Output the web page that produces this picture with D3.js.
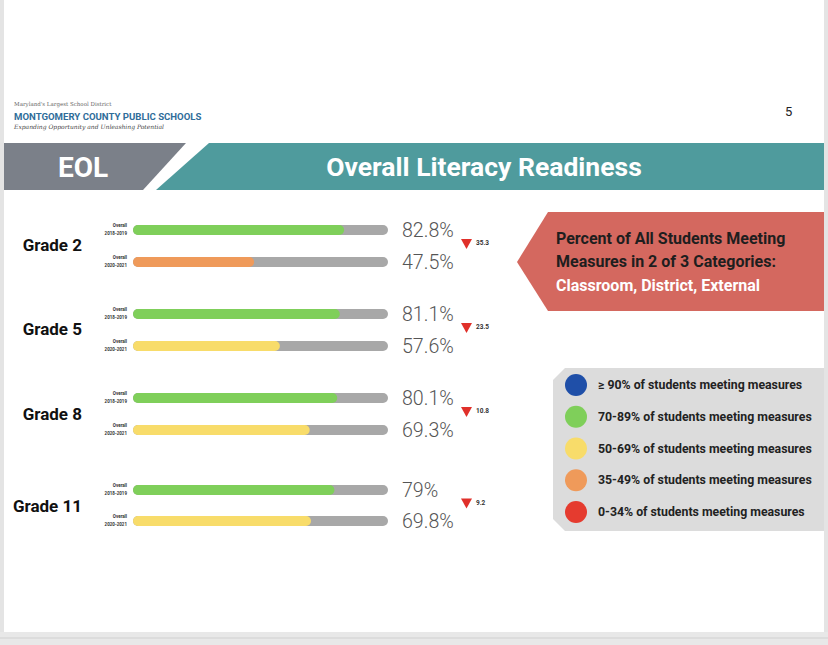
<!DOCTYPE html>
<html><head><meta charset="utf-8">
<script src="https://cdn.jsdelivr.net/npm/d3@7"></script>
<style>body{margin:0;background:#fff}</style></head>
<body><svg id="c" width="828" height="645"></svg>
<script>
const grades = ["Grade 2","Grade 5","Grade 8","Grade 11"];
const years = ["2018-2019","2020-2021"];
const values2019 = [82.8, 81.1, 80.1, 79];
const values2021 = [47.5, 57.6, 69.3, 69.8];
const valueLabels2019 = ["82.8%","81.1%","80.1%","79%"];
const valueLabels2021 = ["47.5%","57.6%","69.3%","69.8%"];
const drops = ["35.3","23.5","10.8","9.2"];
const legendLabels = ["≥ 90% of students meeting measures","70-89% of students meeting measures","50-69% of students meeting measures","35-49% of students meeting measures","0-34% of students meeting measures"];
const legendColors = ["#1f4fa8","#7fcf5a","#f8dc6a","#ef9a5a","#e53b2f"];

function colorFor(v){ return v>=90?legendColors[0]:v>=70?legendColors[1]:v>=50?legendColors[2]:v>=35?legendColors[3]:legendColors[4]; }

const svg = d3.select("#c");
const F = "Roboto, 'Open Sans', sans-serif";
svg.append("rect").attr("x",0).attr("y",0).attr("width",4).attr("height",645).attr("fill","#e4e4e4");
svg.append("rect").attr("x",824).attr("y",0).attr("width",4).attr("height",645).attr("fill","#e4e4e4");
svg.append("rect").attr("x",0).attr("y",632).attr("width",828).attr("height",13).attr("fill","#e8e8e8");
svg.append("line").attr("x1",0).attr("x2",828).attr("y1",638).attr("y2",638).attr("stroke","#d0d0d0");

// logo
svg.append("text").attr("x",14).attr("y",106).attr("font-family","'DejaVu Serif',serif").attr("font-size",5.5).attr("fill","#666").text("Maryland's Largest School District");
svg.append("text").attr("x",14).attr("y",120).attr("font-family",F).attr("font-weight","bold").attr("font-size",9.6).attr("fill","#2f6d9a").text("MONTGOMERY COUNTY PUBLIC SCHOOLS");
svg.append("text").attr("x",14).attr("y",129).attr("font-family","'DejaVu Serif',serif").attr("font-style","italic").attr("font-size",6).attr("fill","#444").text("Expanding Opportunity and Unleashing Potential");
svg.append("text").attr("x",785).attr("y",116).attr("font-family",F).attr("font-size",13).attr("fill","#222").text("5");

// banner
svg.append("path").attr("d","M4,143 L186,143 L143,190 L4,190 Z").attr("fill","#7b8089");
svg.append("path").attr("d","M209,143 L824,143 L824,190 L156,190 Z").attr("fill","#4f9b9d");
svg.append("text").attr("x",83).attr("y",177).attr("text-anchor","middle").attr("font-family",F).attr("font-weight","bold").attr("font-size",28).attr("fill","#fff").text("EOL");
svg.append("text").attr("x",484).attr("y",176).attr("text-anchor","middle").attr("font-family",F).attr("font-weight","bold").attr("font-size",26.5).attr("fill","#fff").text("Overall Literacy Readiness");

// bars
const x = d3.scaleLinear().domain([0,100]).range([133,388]);
const rowY = [[230,262],[314,346],[398,430],[490,521]];
const gradeY = d3.scaleOrdinal().domain(grades).range([245,329,414,506]);
const bh = 10;
grades.forEach((g,i)=>{
  const G = svg.append("g");
  G.append("text").attr("x",82).attr("y",gradeY(g)+6).attr("text-anchor","end").attr("font-family",F).attr("font-weight","bold").attr("font-size",17).attr("fill","#111").text(g);
  [values2019[i],values2021[i]].forEach((v,j)=>{
    const y = rowY[i][j];
    G.append("text").attr("x",127).attr("y",y-3).attr("text-anchor","end").attr("font-family",F).attr("font-weight","bold").attr("font-size",4.5).attr("fill","#333").text("Overall");
    G.append("text").attr("x",127).attr("y",y+5).attr("text-anchor","end").attr("font-family",F).attr("font-weight","bold").attr("font-size",4.5).attr("fill","#333").text(years[j]);
    G.append("rect").attr("x",x(0)).attr("y",y-bh/2).attr("width",x(100)-x(0)).attr("height",bh).attr("rx",5).attr("fill","#a8a8a8");
    G.append("rect").attr("x",x(0)).attr("y",y-bh/2).attr("width",x(v)-x(0)).attr("height",bh).attr("rx",5).attr("fill",colorFor(v));
    G.append("text").attr("x",402).attr("y",y+7).attr("font-family",F).attr("font-weight",300).attr("font-size",19.6).attr("fill","#555").text(j?valueLabels2021[i]:valueLabels2019[i]);
  });
  const ty = (rowY[i][0]+rowY[i][1])/2 - 2;
  G.append("path").attr("d",`M461,${ty-5} L472,${ty-5} L466.5,${ty+5} Z`).attr("fill","#e0302a");
  G.append("text").attr("x",476).attr("y",ty+1).attr("font-family",F).attr("font-weight","bold").attr("font-size",6.5).attr("fill","#333").text(drops[i]);
});

// callout
svg.append("path").attr("d","M548,212 L824,212 L824,311 L548,311 L517,262 Z").attr("fill","#d4685f");
const ct = svg.append("g").attr("font-family",F).attr("font-weight","bold").attr("font-size",16);
ct.append("text").attr("x",556).attr("y",244).attr("fill","#1e1e1e").text("Percent of All Students Meeting");
ct.append("text").attr("x",556).attr("y",267).attr("fill","#1e1e1e").text("Measures in 2 of 3 Categories:");
ct.append("text").attr("x",556).attr("y",291).attr("fill","#fff").text("Classroom, District, External");

// legend
svg.append("path").attr("d","M565,368 L824,368 L824,531 L565,531 L553,519 L553,380 Z").attr("fill","#dcdcdc");
const ly = d3.scalePoint().domain(legendLabels).range([385,512]);
legendLabels.forEach((l,i)=>{
  svg.append("circle").attr("cx",576).attr("cy",ly(l)).attr("r",11).attr("fill",legendColors[i]);
  svg.append("text").attr("x",598).attr("y",ly(l)+4).attr("font-family",F).attr("font-weight","bold").attr("font-size",12.3).attr("fill","#222").text(l);
});
</script></body></html>
